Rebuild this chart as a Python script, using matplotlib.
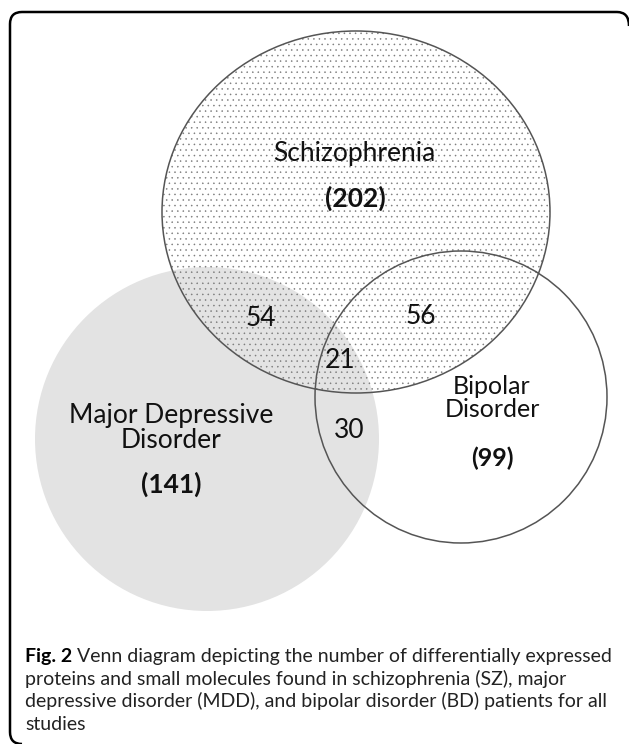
import matplotlib.pyplot as plt
from matplotlib.patches import Circle, Ellipse, PathPatch
from matplotlib.path import Path

# Venn data
set_names = ['Schizophrenia', 'Major Depressive\nDisorder', 'Bipolar\nDisorder']
set_totals = [202, 141, 99]
overlap_names = ['SZ & MDD', 'SZ & BD', 'MDD & BD', 'SZ & MDD & BD']
overlap_counts = [54, 56, 30, 21]

caption_bold = 'Fig. 2'
caption_lines = [' Venn diagram depicting the number of differentially expressed',
                 'proteins and small molecules found in schizophrenia (SZ), major',
                 'depressive disorder (MDD), and bipolar disorder (BD) patients for all',
                 'studies']

W, H = 629, 744
plt.rcParams['hatch.linewidth'] = 0.35
fig = plt.figure(figsize=(W / 100, H / 100), dpi=100)
ax = fig.add_axes([0, 0, 1, 1])
ax.set_xlim(0, W)
ax.set_ylim(H, 0)
ax.axis('off')

# frame: top edge, left edge and corners, right/bottom are cut off by the crop
verts = [(629, 26), (629, 12), (617, 12), (22, 12), (10, 12), (10, 24),
         (10, 732), (10, 744), (22, 744)]
codes = [Path.MOVETO, Path.CURVE3, Path.CURVE3, Path.LINETO, Path.CURVE3, Path.CURVE3,
         Path.LINETO, Path.CURVE3, Path.CURVE3]
ax.add_patch(PathPatch(Path(verts, codes), fill=False, ec='black', lw=1.8,
                       capstyle='butt', joinstyle='round'))

line_col = '#555555'
# MDD (grey fill, no outline)
ax.add_patch(Circle((207, 439), 172, fc='#e3e3e3', ec='none', zorder=1))
# SZ (dotted)
ax.add_patch(Ellipse((356, 212), 388, 362, fc='none', ec='#7a7a7a', lw=0, hatch='...', zorder=2))
ax.add_patch(Ellipse((356, 212), 388, 362, fc='none', ec=line_col, lw=1.1, zorder=3))
# BD (outline only)
ax.add_patch(Circle((461, 397), 146, fc='none', ec=line_col, lw=1.1, zorder=3))

font = 'Lato'
tc = '#111111'
ax.text(354, 153, set_names[0], ha='center', va='center', fontsize=19, family=font, color=tc, zorder=5)
ax.text(355, 198, f'({set_totals[0]})', ha='center', va='center', fontsize=19, family=font,
        fontweight='bold', color=tc, zorder=5)
ax.text(171, 428, set_names[1], ha='center', va='center', fontsize=19, family=font, color=tc,
        linespacing=1.05, zorder=5)
ax.text(171, 484, f'({set_totals[1]})', ha='center', va='center', fontsize=19, family=font,
        fontweight='bold', color=tc, zorder=5)
ax.text(492, 398, set_names[2], ha='center', va='center', fontsize=18, family=font, color=tc,
        linespacing=0.95, zorder=5)
ax.text(492, 458, f'({set_totals[2]})', ha='center', va='center', fontsize=18, family=font,
        fontweight='bold', color=tc, zorder=5)

overlap_pos = [(261, 318), (421, 316), (349, 431), (340, 361)]
for (x, y), n in zip(overlap_pos, overlap_counts):
    ax.text(x, y, str(n), ha='center', va='center', fontsize=19, family=font, color=tc, zorder=5)

# caption
cfs = 14
fig.canvas.draw()
r = fig.canvas.get_renderer()
t = ax.text(25, 662, caption_bold, ha='left', va='baseline', fontsize=cfs, family=font,
            fontweight='bold', color='black')
bb = t.get_window_extent(r)
ax.text(25 + bb.width, 662, caption_lines[0], ha='left', va='baseline', fontsize=cfs,
        family=font, color='#222222')
for i, line in enumerate(caption_lines[1:]):
    ax.text(25, 685 + 22.5 * i, line, ha='left', va='baseline', fontsize=cfs, family=font,
            color='#222222')

fig.savefig('out.png', dpi=100)
